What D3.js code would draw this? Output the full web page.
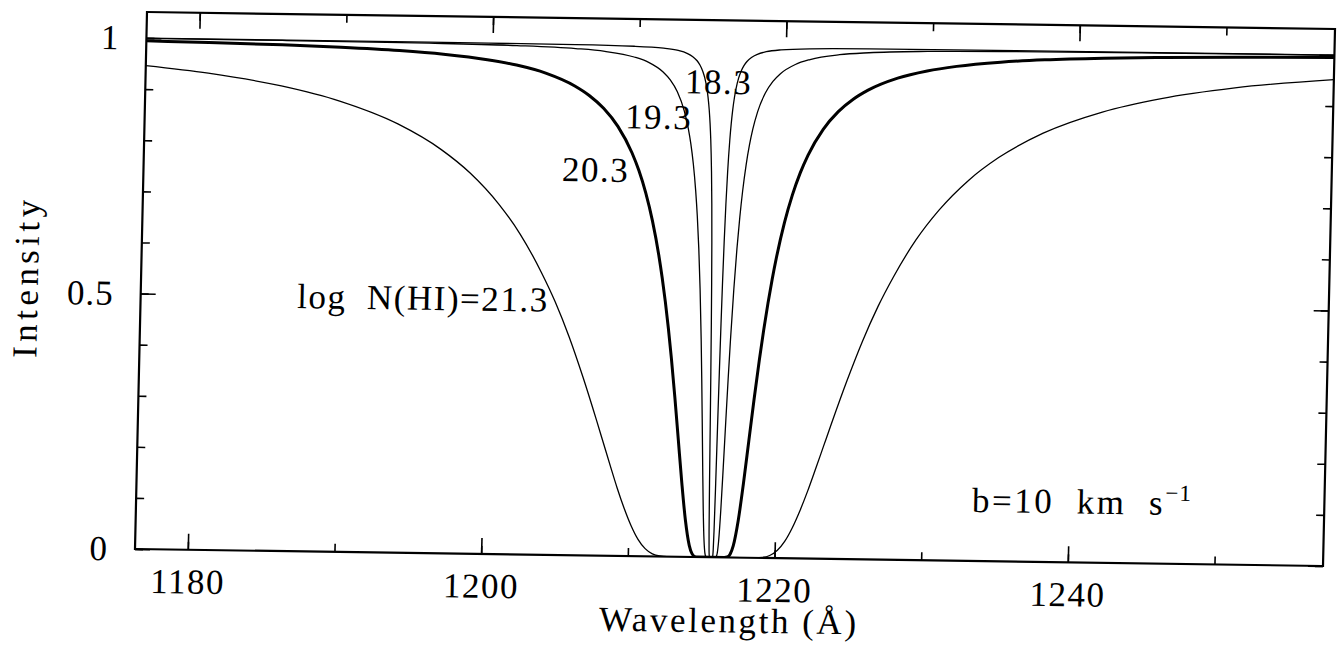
<!DOCTYPE html>
<html>
<head>
<meta charset="utf-8">
<script src="https://cdn.jsdelivr.net/npm/d3@7"></script>
<style>
  body { margin: 0; background: #fff; }
  svg { display: block; }
  .frame { fill: none; stroke: #000; stroke-width: 2.2; }
  .ax path { display: none; }
  .ax line { stroke: #000; stroke-width: 1.6; }
  .spec { fill: none; stroke: #000; stroke-width: 1.3; }
  .spec.thick { stroke-width: 3; }
</style>
</head>
<body>
<script>
// Ly-alpha profiles, intensity vs wavelength
var nh183 = [[1176.40,1.0000],[1195.67,0.9998],[1205.67,0.9991],[1209.67,0.9976],[1211.67,0.9947],[1212.67,0.9906],[1213.27,0.9853],[1213.67,0.9789],[1213.97,0.9710],[1214.17,0.9628],[1214.37,0.9508],[1214.52,0.9376],[1214.67,0.9183],[1214.77,0.9002],[1214.87,0.8754],[1214.95,0.8484],[1215.02,0.8174],[1215.12,0.7545],[1215.19,0.6909],[1215.25,0.6169],[1215.30,0.5367],[1215.34,0.4573],[1215.38,0.3631],[1215.42,0.2558],[1215.46,0.1449],[1215.50,0.0525],[1215.53,0.0130],[1215.56,0.0009],[1215.59,0.0000],
  [1215.75,0.0000],[1215.78,0.0009],[1215.81,0.0130],[1215.84,0.0525],[1215.88,0.1449],[1215.92,0.2558],[1215.96,0.3631],[1216.00,0.4573],[1216.04,0.5367],[1216.09,0.6169],[1216.15,0.6909],[1216.22,0.7545],[1216.32,0.8174],[1216.39,0.8484],[1216.47,0.8754],[1216.57,0.9002],[1216.67,0.9183],[1216.82,0.9376],[1216.97,0.9508],[1217.17,0.9628],[1217.37,0.9710],[1217.67,0.9789],[1218.07,0.9853],[1218.67,0.9906],[1219.67,0.9947],[1221.67,0.9976],[1225.67,0.9991],[1235.67,0.9998],[1257.40,1.0000]];

var nh193 = [[1176.40,0.9994],[1185.67,0.9991],[1195.67,0.9979],[1201.67,0.9957],[1205.67,0.9915],[1207.67,0.9868],[1209.67,0.9766],[1210.67,0.9665],[1211.67,0.9481],[1212.17,0.9328],[1212.67,0.9097],[1213.17,0.8726],[1213.47,0.8386],[1213.67,0.8082],[1213.87,0.7688],[1214.07,0.7169],[1214.22,0.6668],[1214.37,0.6040],[1214.52,0.5251],[1214.67,0.4266],[1214.77,0.3493],[1214.87,0.2642],[1214.97,0.1757],[1215.07,0.0938],[1215.17,0.0331],[1215.25,0.0080],[1215.32,0.0010],[1215.37,0.0000],
  [1215.97,0.0000],[1216.02,0.0010],[1216.09,0.0080],[1216.17,0.0331],[1216.27,0.0938],[1216.37,0.1757],[1216.47,0.2642],[1216.57,0.3493],[1216.67,0.4266],[1216.82,0.5251],[1216.97,0.6040],[1217.12,0.6668],[1217.27,0.7169],[1217.47,0.7688],[1217.67,0.8082],[1217.87,0.8386],[1218.17,0.8726],[1218.67,0.9097],[1219.17,0.9328],[1219.67,0.9481],[1220.67,0.9665],[1221.67,0.9766],[1223.67,0.9868],[1225.67,0.9915],[1229.67,0.9957],[1235.67,0.9979],[1245.67,0.9991],[1257.40,0.9995]];

var nh203 = [[1176.40,0.9945],[1180.67,0.9931],[1185.67,0.9906],[1189.67,0.9875],[1193.67,0.9826],[1196.67,0.9767],[1199.67,0.9673],[1201.67,0.9575],[1203.67,0.9426],[1205.67,0.9183],[1206.67,0.9001],[1207.67,0.8754],[1208.67,0.8404],[1209.67,0.7892],[1210.17,0.7545],[1210.67,0.7112],[1211.17,0.6566],[1211.67,0.5872],[1211.92,0.5456],[1212.17,0.4988],[1212.42,0.4463],[1212.67,0.3880],[1212.97,0.3108],[1213.27,0.2278],[1213.57,0.1449],[1213.87,0.0721],[1214.17,0.0227],[1214.37,0.0065],[1214.57,0.0009],[1214.77,0.0000],
  [1216.57,0.0000],[1216.77,0.0009],[1216.97,0.0065],[1217.17,0.0227],[1217.47,0.0721],[1217.77,0.1449],[1218.07,0.2278],[1218.37,0.3108],[1218.67,0.3880],[1218.92,0.4463],[1219.17,0.4988],[1219.42,0.5456],[1219.67,0.5872],[1220.17,0.6566],[1220.67,0.7112],[1221.17,0.7545],[1221.67,0.7892],[1222.67,0.8404],[1223.67,0.8754],[1224.67,0.9001],[1225.67,0.9183],[1227.67,0.9426],[1229.67,0.9575],[1231.67,0.9673],[1234.67,0.9767],[1237.67,0.9826],[1241.67,0.9875],[1245.67,0.9906],[1250.67,0.9931],[1257.40,0.9951]];

var nh213 = [[1176.40,0.946],[1180.67,0.933],[1185.67,0.910],[1189.67,0.882],[1193.67,0.839],[1196.67,0.790],[1198.67,0.745],[1200.67,0.685],[1202.17,0.627],[1203.67,0.553],[1204.67,0.495],[1205.67,0.427],[1206.67,0.349],[1207.67,0.264],[1208.17,0.220],[1208.67,0.176],[1209.17,0.133],[1209.67,0.094],[1210.17,0.060],[1210.67,0.033],[1211.17,0.015],[1211.67,0.005],[1212.17,0.001],[1212.67,0.000],
  [1218.67,0.000],[1219.17,0.001],[1219.67,0.005],[1220.17,0.015],[1220.67,0.033],[1221.17,0.060],[1221.67,0.094],[1222.17,0.133],[1222.67,0.176],[1223.17,0.220],[1223.67,0.264],[1224.67,0.349],[1225.67,0.427],[1226.67,0.495],[1227.67,0.553],[1229.17,0.627],[1230.67,0.685],[1232.67,0.745],[1234.67,0.790],[1237.67,0.839],[1241.67,0.882],[1245.67,0.910],[1250.67,0.933],[1257.40,0.952]];

var xMajor = [1180, 1200, 1220, 1240];
var xMinor = [1180, 1190, 1200, 1210, 1220, 1230, 1240, 1250];
var yMajor = [0, 0.5, 1];
var yMinor = [0, 0.1, 0.2, 0.3, 0.4, 0.5, 0.6, 0.7, 0.8, 0.9, 1];
var yLabels = ["0", "0.5", "1"];

var W = 1188, H = 537;
var serif = "'Liberation Serif', 'Times New Roman', serif";

var svg = d3.select("body").append("svg").attr("width", 1339).attr("height", 656);
// the scanned page sits a little skewed, so the whole plot is too
var g = svg.append("g").attr("transform", "matrix(1,0.01431,-0.02235,1,147,12)");

var x = d3.scaleLinear().domain([1176.4, 1257.4]).range([0, W]);
var y = d3.scaleLinear().domain([0, 1.051]).range([H, 0]);

g.append("clipPath").attr("id", "clip").append("rect").attr("width", W).attr("height", H);

// ticks on all four sides, pointing in
g.append("g").attr("class", "ax").attr("transform", "translate(0," + H + ")")
  .call(d3.axisBottom(x).tickValues(xMinor).tickSize(-8).tickFormat(""));
g.append("g").attr("class", "ax").attr("transform", "translate(0," + H + ")")
  .call(d3.axisBottom(x).tickValues(xMajor).tickSize(-16).tickPadding(19).tickFormat(d3.format("d")))
  .selectAll("text").attr("letter-spacing", 1.5);
g.append("g").attr("class", "ax")
  .call(d3.axisTop(x).tickValues(xMinor).tickSize(-8).tickFormat(""));
g.append("g").attr("class", "ax")
  .call(d3.axisTop(x).tickValues(xMajor).tickSize(-16).tickFormat(""));

g.append("g").attr("class", "ax")
  .call(d3.axisLeft(y).tickValues(yMinor).tickSize(-8).tickFormat(""));
g.append("g").attr("class", "ax")
  .call(d3.axisLeft(y).tickValues(yMajor).tickSize(-15).tickPadding(27)
    .tickFormat(function(d, i) { return yLabels[i]; }))
  .selectAll("text").attr("letter-spacing", 1);
g.append("g").attr("class", "ax").attr("transform", "translate(" + W + ",0)")
  .call(d3.axisRight(y).tickValues(yMinor).tickSize(-8).tickFormat(""));
g.append("g").attr("class", "ax").attr("transform", "translate(" + W + ",0)")
  .call(d3.axisRight(y).tickValues(yMajor).tickSize(-15).tickFormat(""));

var line = d3.line()
  .x(function(d) { return x(d[0]); })
  .y(function(d) { return y(d[1]); })
  .curve(d3.curveMonotoneX);

var curves = g.append("g").attr("clip-path", "url(#clip)");
curves.append("path").attr("class", "spec").attr("d", line(nh213));
curves.append("path").attr("class", "spec").attr("d", line(nh183));
curves.append("path").attr("class", "spec").attr("d", line(nh193));
curves.append("path").attr("class", "spec thick").attr("d", line(nh203));

g.append("rect").attr("class", "frame").attr("width", W).attr("height", H);

// curve labels
g.append("text").attr("x", x(1213.18)).attr("y", y(0.907)).attr("letter-spacing", 1.5).text("18.3");
g.append("text").attr("x", x(1209.15)).attr("y", y(0.837)).attr("letter-spacing", 1.5).text("19.3");
g.append("text").attr("x", x(1204.93)).attr("y", y(0.732)).attr("letter-spacing", 1.5).text("20.3");
g.append("text").attr("x", x(1187.07)).attr("y", y(0.476))
  .attr("textLength", 250).attr("lengthAdjust", "spacing")
  .text("log\u00a0\u00a0N(HI)=21.3");

var bt = g.append("text").attr("x", x(1233.38)).attr("y", y(0.096)).attr("letter-spacing", 2.5);
bt.append("tspan").text("b=10\u00a0\u00a0km\u00a0\u00a0s");
bt.append("tspan").attr("class", "sup").attr("dy", -14).attr("letter-spacing", 1).text("\u22121");

// axis titles
g.append("text").attr("x", W / 2).attr("y", H + 75).attr("text-anchor", "middle")
  .attr("textLength", 257).attr("lengthAdjust", "spacing")
  .text("Wavelength (\u00c5)");
g.append("text").attr("transform", "translate(-103," + (H / 2) + ") rotate(-90)")
  .attr("text-anchor", "middle")
  .attr("textLength", 158).attr("lengthAdjust", "spacing")
  .text("Intensity");

// one serif face for every label, set inline so nothing overrides it
svg.selectAll("text").style("font-family", serif).style("font-size", "35px").style("fill", "#000");
svg.selectAll("tspan.sup").style("font-size", "23px");
</script>
</body>
</html>
